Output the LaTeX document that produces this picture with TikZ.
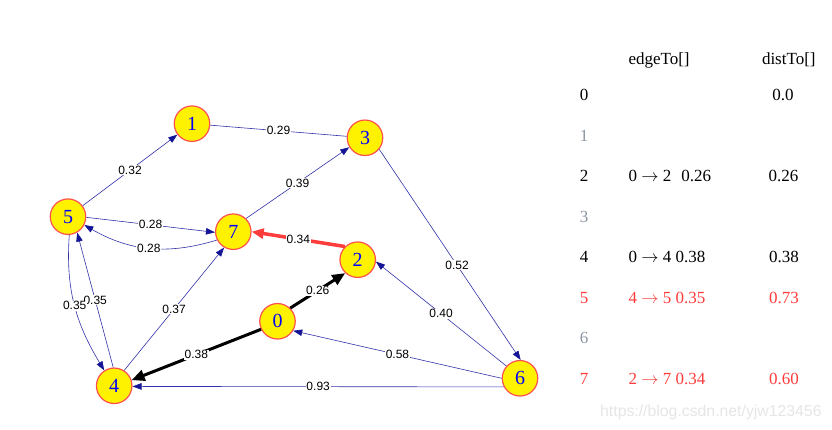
\documentclass[tikz,border=0pt]{standalone}
\usepackage{fontspec}
\setmainfont{Liberation Serif}
\newfontfamily\lblfont{Liberation Sans}
\usetikzlibrary{arrows.meta}
\definecolor{edgeblue}{RGB}{50,50,170}
\definecolor{tipblue}{RGB}{20,20,150}
\definecolor{nodered}{RGB}{255,80,80}
\definecolor{rowred}{RGB}{255,60,60}
\definecolor{rowgray}{RGB}{140,150,165}
\definecolor{wmgray}{RGB}{230,230,230}
\newcommand{\tarrow}{\ensuremath{\rightarrow}}
\begin{document}
\begin{tikzpicture}[x=1pt,y=1pt,
  vtx/.style={circle, draw=nodered, line width=1.2pt, fill=yellow, minimum size=35.5pt, inner sep=0pt, text=blue, font=\fontsize{20}{20}\selectfont},
  wedge/.style={draw=edgeblue, line width=0.6pt, -{Triangle[length=9pt,width=6.5pt,color=tipblue]}},
  plainedge/.style={draw=edgeblue, line width=0.6pt},
  pathedge/.style={draw=black, line width=3pt, -{Triangle[length=13pt,width=11pt]}},
  rededge/.style={draw=rowred, line width=3.5pt, -{Triangle[length=12pt,width=10pt]}},
  lbl/.style={fill=white, inner sep=0.8pt, font=\lblfont\fontsize{12}{12}\selectfont, text=black},
  tbl/.style={font=\fontsize{17}{17}\selectfont, inner sep=0pt}
]
\useasboundingbox (0,0) rectangle (832,430);
\fill[white] (0,0) rectangle (832,430);

% vertices
\node[vtx] (n1) at (192,306.3) {1};
\node[vtx] (n3) at (365,292.2) {3};
\node[vtx] (n5) at (68,213.3) {5};
\node[vtx] (n7) at (233.3,198.3) {7};
\node[vtx] (n2) at (357.7,170.3) {2};
\node[vtx] (n0) at (277.5,108.7) {0};
\node[vtx] (n4) at (114.2,44.2) {4};
\node[vtx] (n6) at (520,51.7) {6};

% edges
\draw[wedge] (n5) -- node[lbl] {0.32} (n1);
\draw[plainedge] (n1) -- node[lbl] {0.29} (n3);
\draw[wedge] (n7.46) -- node[lbl] {0.39} (n3.211);
\draw[wedge] (n3.-39) -- node[lbl, pos=0.55] {0.52} (n6.88);
\draw[wedge] (n5.-2) -- node[lbl] {0.28} (n7.182);
\draw[wedge] (n7.207) to[out=197,in=-30] node[lbl] {0.28} (n5.-27);
\draw[wedge] (n4.57) -- node[lbl] {0.37} (n7.240);
\draw[wedge] (n4.93) -- node[lbl] {0.35} (n5.-60);
\draw[wedge] (n5.-86) to[out=-94,in=121] node[lbl] {0.35} (n4.123);
\draw[wedge] (n6.138) -- node[lbl] {0.40} (n2.-6);
\draw[wedge] (n6.180) -- node[lbl] {0.58} (n0.-31);
\draw[wedge] (n6.208) -- node[lbl] {0.93} (n4.-2);
\draw[rededge] (n2.134) -- node[lbl] {0.34} (n7.east);
\draw[pathedge] (n0.46) -- node[lbl] {0.26} (n2.227);
\draw[pathedge] (n0.206) -- node[lbl] {0.38} (n4.18);

% table
\node[tbl, anchor=base west] (hEdge) at (628.3,365) {edgeTo[]};
\node[tbl, anchor=base] (hDist) at (788.8,365) {distTo[]};

\node[tbl, anchor=base] (i0) at (584,329.3) {0};
\node[tbl, anchor=base, text=rowgray] (i1) at (584,288.8) {1};
\node[tbl, anchor=base] (i2) at (584,248.3) {2};
\node[tbl, anchor=base, text=rowgray] (i3) at (584,207.8) {3};
\node[tbl, anchor=base] (i4) at (584,167.3) {4};
\node[tbl, anchor=base, text=rowred] (i5) at (584,126.8) {5};
\node[tbl, anchor=base, text=rowgray] (i6) at (584,86.3) {6};
\node[tbl, anchor=base, text=rowred] (i7) at (584,45.8) {7};

\node[tbl, anchor=base west] (e2) at (628.5,248.3) {0 \tarrow{} 2\hspace{10pt}0.26};
\node[tbl, anchor=base west] (e4) at (628.5,167.3) {0 \tarrow{} 4 0.38};
\node[tbl, anchor=base west, text=rowred] (e5) at (628.5,126.8) {4 \tarrow{} 5 0.35};
\node[tbl, anchor=base west, text=rowred] (e7) at (628.5,45.8) {2 \tarrow{} 7 0.34};

\node[tbl, anchor=base] (d0) at (783,329.3) {0.0};
\node[tbl, anchor=base] (d2) at (783.5,248.3) {0.26};
\node[tbl, anchor=base] (d4) at (784,167.3) {0.38};
\node[tbl, anchor=base, text=rowred] (d5) at (784,126.8) {0.73};
\node[tbl, anchor=base, text=rowred] (d7) at (784,45.8) {0.60};

% watermark
\node[anchor=base west, inner sep=0pt, font=\lblfont\fontsize{15.8}{16}\selectfont, text=wmgray] (wm) at (600,13.5) {https://blog.csdn.net/yjw123456};
\end{tikzpicture}
\end{document}
